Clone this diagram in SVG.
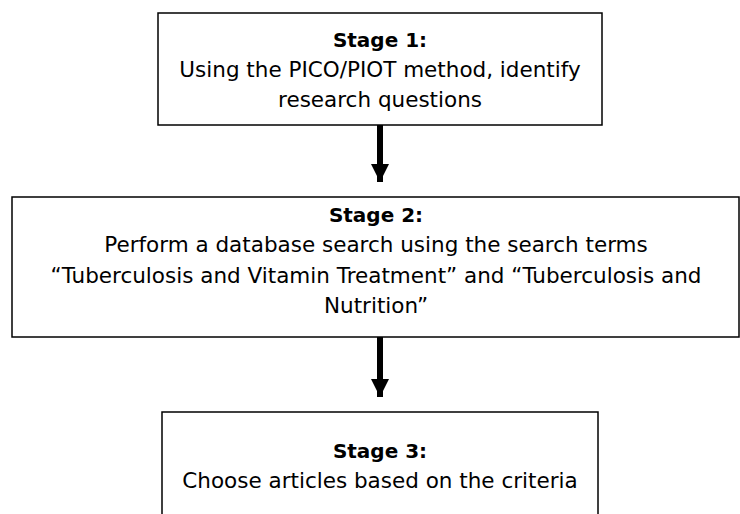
<svg xmlns="http://www.w3.org/2000/svg" width="740" height="514" viewBox="0 0 740 514">
<style>
.box{fill:#fff;stroke:#000;stroke-width:1.5}
.t{font-family:"DejaVu Sans",sans-serif;font-size:21.5px;fill:#000;text-anchor:middle}
.b{font-weight:bold;font-size:20px}
.conn{stroke:#000;stroke-width:6;fill:none}
</style>
<defs>
<marker id="ah" markerUnits="userSpaceOnUse" markerWidth="18" markerHeight="18" refX="18" refY="9" orient="auto" viewBox="0 0 18 18">
<path d="M0,0 L18,9 L0,18 Z" fill="#000"/>
</marker>
</defs>
<rect width="740" height="514" fill="#fff"/>
<g id="connectors">
<line class="conn" x1="380" y1="125" x2="380" y2="182" marker-end="url(#ah)"/>
<line class="conn" x1="380" y1="337" x2="380" y2="397" marker-end="url(#ah)"/>
</g>
<g id="stage1">
<rect class="box" x="158" y="13" width="444" height="112"/>
<text class="t b" x="380" y="47">Stage 1:</text>
<text class="t" x="380" y="77">Using the PICO/PIOT method, identify</text>
<text class="t" x="380" y="107">research questions</text>
</g>
<g id="stage2">
<rect class="box" x="12" y="197" width="727" height="140"/>
<text class="t b" x="376" y="222">Stage 2:</text>
<text class="t" x="376" y="252">Perform a database search using the search terms</text>
<text class="t" x="376" y="283">“Tuberculosis and Vitamin Treatment” and “Tuberculosis and</text>
<text class="t" x="376" y="313">Nutrition”</text>
</g>
<g id="stage3">
<rect class="box" x="162" y="412" width="436" height="120"/>
<text class="t b" x="380" y="458">Stage 3:</text>
<text class="t" x="380" y="488">Choose articles based on the criteria</text>
</g>
</svg>
